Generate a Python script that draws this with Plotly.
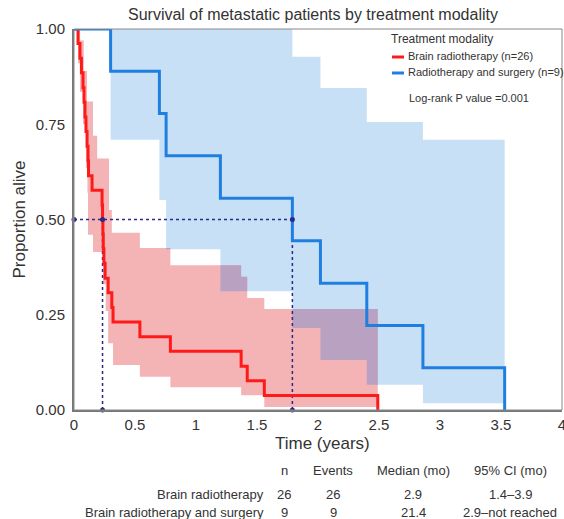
import plotly.graph_objects as go

# ---------------- data ----------------
# Kaplan-Meier: Brain radiotherapy (n=26)
red_times = [0, 0.033, 0.049, 0.061, 0.074, 0.082, 0.090, 0.098, 0.107, 0.115, 0.119,
             0.148, 0.230, 0.234, 0.237, 0.240, 0.245, 0.255, 0.280, 0.310, 0.320,
             0.540, 0.790, 1.370, 1.420, 1.560, 2.490]
red_surv = [1.0, 0.962, 0.923, 0.885, 0.846, 0.808, 0.769, 0.731, 0.692, 0.654, 0.615,
            0.577, 0.538, 0.500, 0.462, 0.423, 0.385, 0.346, 0.308, 0.269, 0.231,
            0.192, 0.154, 0.115, 0.077, 0.038, 0.0]
# 95% CI step functions (change time, value after change), band ends at last time
red_up_t = [0, 0.050, 0.080, 0.107, 0.156, 0.190, 0.287, 0.310, 0.540, 0.790, 1.370, 1.420, 1.560]
red_up_v = [1.0, 0.97, 0.89, 0.81, 0.72, 0.66, 0.525, 0.465, 0.425, 0.38, 0.35, 0.294, 0.265]
red_lo_t = [0, 0.033, 0.049, 0.074, 0.098, 0.110, 0.115, 0.156, 0.237, 0.260, 0.280, 0.320, 0.540, 0.790, 1.370, 1.560]
red_lo_v = [1.0, 0.91, 0.835, 0.75, 0.635, 0.57, 0.46, 0.415, 0.33, 0.26, 0.175, 0.118, 0.087, 0.06, 0.039, 0.008]
red_end = 2.49

# Kaplan-Meier: Radiotherapy and surgery (n=9)
blue_times = [0, 0.30, 0.70, 0.755, 1.20, 1.79, 2.02, 2.40, 2.86, 3.53]
blue_surv = [1.0, 0.889, 0.778, 0.667, 0.556, 0.444, 0.333, 0.222, 0.111, 0.0]
blue_up_t = [0.30, 1.79, 2.02, 2.40, 2.86]
blue_up_v = [1.0, 0.927, 0.845, 0.756, 0.709]
blue_lo_t = [0.30, 0.70, 0.755, 1.20, 1.79, 2.02, 2.40, 2.86]
blue_lo_v = [0.709, 0.551, 0.422, 0.312, 0.215, 0.131, 0.066, 0.018]
blue_end = 3.53

medians = [0.234, 1.79]

x_ticks = [0, 0.5, 1, 1.5, 2, 2.5, 3, 3.5, 4]
x_tick_text = ["0", "0.5", "1", "1.5", "2", "2.5", "3", "3.5", "4"]
y_ticks = [0, 0.25, 0.5, 0.75, 1.0]
y_tick_text = ["0.00", "0.25", "0.50", "0.75", "1.00"]

legend_title = "Treatment modality"
series_names = ["Brain radiotherapy (n=26)", "Radiotherapy and surgery (n=9)"]
pvalue_text = "Log-rank P value =0.001"

table_header = ["n", "Events", "Median (mo)", "95% CI (mo)"]
table_rows = ["Brain radiotherapy", "Brain radiotherapy and surgery"]
table_n = ["26", "9"]
table_events = ["26", "9"]
table_median = ["2.9", "21.4"]
table_ci = ["1.4–3.9", "2.9–not reached"]

# ---------------- helpers ----------------
RED = "#ff1a1a"
BLUE = "#1f7fe0"
PINK = "#f4b4b6"
LBLUE = "#c8e0f6"
PURPLE = "#b9a1c2"
NAVY = "#2a2a8a"


def step_val(ts, vs, t):
    v = None
    for ti, vi in zip(ts, vs):
        if t >= ti - 1e-12:
            v = vi
    return v


def band_polygon(ut, uv, lt, lv, end):
    grid = sorted(set(ut) | set(lt) | {end})
    grid = [g for g in grid if g <= end]
    xs, ys = [], []
    for i in range(len(grid) - 1):
        u = step_val(ut, uv, grid[i])
        xs += [grid[i], grid[i + 1]]
        ys += [u, u]
    lx, ly = [], []
    for i in range(len(grid) - 1):
        l = step_val(lt, lv, grid[i])
        lx += [grid[i], grid[i + 1]]
        ly += [l, l]
    xs += lx[::-1]
    ys += ly[::-1]
    xs.append(xs[0]); ys.append(ys[0])
    return xs, ys


def overlap_polygons():
    start = max(min(red_up_t), min(blue_up_t))
    end = min(red_end, blue_end)
    grid = sorted(set([t for t in red_up_t + red_lo_t + blue_up_t + blue_lo_t if start <= t <= end]) | {start, end})
    xs, ys = [], []
    for i in range(len(grid) - 1):
        a, b = grid[i], grid[i + 1]
        top = min(step_val(red_up_t, red_up_v, a), step_val(blue_up_t, blue_up_v, a))
        bot = max(step_val(red_lo_t, red_lo_v, a), step_val(blue_lo_t, blue_lo_v, a))
        if top > bot:
            xs += [a, b, b, a, a, None]
            ys += [bot, bot, top, top, bot, None]
    return xs, ys


fig = go.Figure()

bx, by = band_polygon(blue_up_t, blue_up_v, blue_lo_t, blue_lo_v, blue_end)
fig.add_trace(go.Scatter(x=bx, y=by, fill="toself", fillcolor=LBLUE, line=dict(width=0),
                         mode="lines", hoverinfo="skip", showlegend=False))
rx, ry = band_polygon(red_up_t, red_up_v, red_lo_t, red_lo_v, red_end)
fig.add_trace(go.Scatter(x=rx, y=ry, fill="toself", fillcolor=PINK, line=dict(width=0),
                         mode="lines", hoverinfo="skip", showlegend=False))
ox, oy = overlap_polygons()
fig.add_trace(go.Scatter(x=ox, y=oy, fill="toself", fillcolor=PURPLE, line=dict(width=0),
                         mode="lines", hoverinfo="skip", showlegend=False))

# median reference lines
fig.add_trace(go.Scatter(x=[0, medians[1]], y=[0.5, 0.5], mode="lines",
                         line=dict(color=NAVY, width=1.5, dash="dot"), showlegend=False))
for m in medians:
    fig.add_trace(go.Scatter(x=[m, m], y=[0, 0.5], mode="lines",
                             line=dict(color=NAVY, width=1.5, dash="dot"), showlegend=False))

# KM curves
fig.add_trace(go.Scatter(x=red_times, y=red_surv, mode="lines", line_shape="hv",
                         line=dict(color=RED, width=3), name=series_names[0], showlegend=False))
fig.add_trace(go.Scatter(x=blue_times, y=blue_surv, mode="lines", line_shape="hv",
                         line=dict(color=BLUE, width=3), name=series_names[1], showlegend=False))

# median markers
fig.add_trace(go.Scatter(x=[0, medians[0], medians[1], medians[0], medians[1]],
                         y=[0.5, 0.5, 0.5, 0, 0], mode="markers",
                         marker=dict(color=NAVY, size=5), showlegend=False, cliponaxis=False))

FONT = "Liberation Sans, Arial, Helvetica, sans-serif"
TXT = "#333333"

fig.update_layout(
    width=564, height=519, autosize=False,
    margin=dict(l=74, r=2, t=29, b=109, autoexpand=False),
    paper_bgcolor="white", plot_bgcolor="white",
    font=dict(family=FONT, color=TXT),
    xaxis=dict(range=[0, 4], tickvals=x_ticks, ticktext=x_tick_text, showgrid=False,
               zeroline=False, showline=True, linecolor="#777", linewidth=2,
               tickfont=dict(size=15, color=TXT), ticks="", fixedrange=True,
               ticklabeloverflow="allow", automargin=False),
    yaxis=dict(range=[0, 1], tickvals=y_ticks, ticktext=y_tick_text, showgrid=False,
               zeroline=False, showline=True, linecolor="#777", linewidth=2,
               tickfont=dict(size=15, color=TXT), ticks="", ticklabelstandoff=4, automargin=False,
               title=dict(text="Proportion alive", font=dict(size=17, color=TXT), standoff=6)),
    showlegend=False,
)

# frame (top / right)
fig.add_shape(type="rect", xref="paper", yref="paper", x0=0, y0=0, x1=1, y1=1,
              line=dict(color="#888", width=1), layer="above")

L, T, R, B = 74, 29, 562, 410


def px(xp):
    return (xp - L) / (R - L)


def py(yp):
    return (B - yp) / (B - T)


ann = []
ann.append(dict(text="Survival of metastatic patients by treatment modality", x=px(313), y=py(14),
                xref="paper", yref="paper", showarrow=False, font=dict(size=16, color=TXT),
                xanchor="center", yanchor="middle"))
ann.append(dict(text="Time (years)", x=px(322), y=py(444), xref="paper", yref="paper",
                showarrow=False, font=dict(size=17, color=TXT), xanchor="center", yanchor="middle"))
# legend
ann.append(dict(text=legend_title, x=px(389), y=py(39), xref="paper", yref="paper", showarrow=False,
                font=dict(size=12, color=TXT), xanchor="left", yanchor="middle"))
for i, (nm, col) in enumerate(zip(series_names, [RED, BLUE])):
    yy = 56 + 16 * i
    ann.append(dict(text=nm, x=px(406), y=py(yy), xref="paper", yref="paper", showarrow=False,
                    font=dict(size=11, color=TXT), xanchor="left", yanchor="middle"))
    fig.add_shape(type="line", xref="paper", yref="paper", x0=px(392), x1=px(404), y0=py(yy + 1), y1=py(yy + 1),
                  line=dict(color=col, width=3))
ann.append(dict(text=pvalue_text, x=px(407), y=py(98), xref="paper", yref="paper", showarrow=False,
                font=dict(size=11, color=TXT), xanchor="left", yanchor="middle"))

# table
col_x = [284, 333, 413, 510]
y_head, y_rows = 470, [494, 512]
for cx, h in zip(col_x, table_header):
    ann.append(dict(text=h, x=px(cx), y=py(y_head), xref="paper", yref="paper", showarrow=False,
                    font=dict(size=13, color=TXT), xanchor="center", yanchor="middle"))
for i, rlab in enumerate(table_rows):
    yy = y_rows[i]
    ann.append(dict(text=rlab, x=px(266), y=py(yy), xref="paper", yref="paper", showarrow=False,
                    font=dict(size=13, color=TXT), xanchor="right", yanchor="middle"))
    for cx, v in zip(col_x, [table_n[i], table_events[i], table_median[i], table_ci[i]]):
        ann.append(dict(text=v, x=px(cx), y=py(yy), xref="paper", yref="paper", showarrow=False,
                        font=dict(size=13, color=TXT), xanchor="center", yanchor="middle"))

fig.update_layout(annotations=ann)
fig.write_html(
    "out.html",
    config={"responsive": False, "displayModeBar": False},
    post_script="document.body.style.margin='0';document.body.style.overflow='hidden';"
                "document.documentElement.style.overflow='hidden';",
)
